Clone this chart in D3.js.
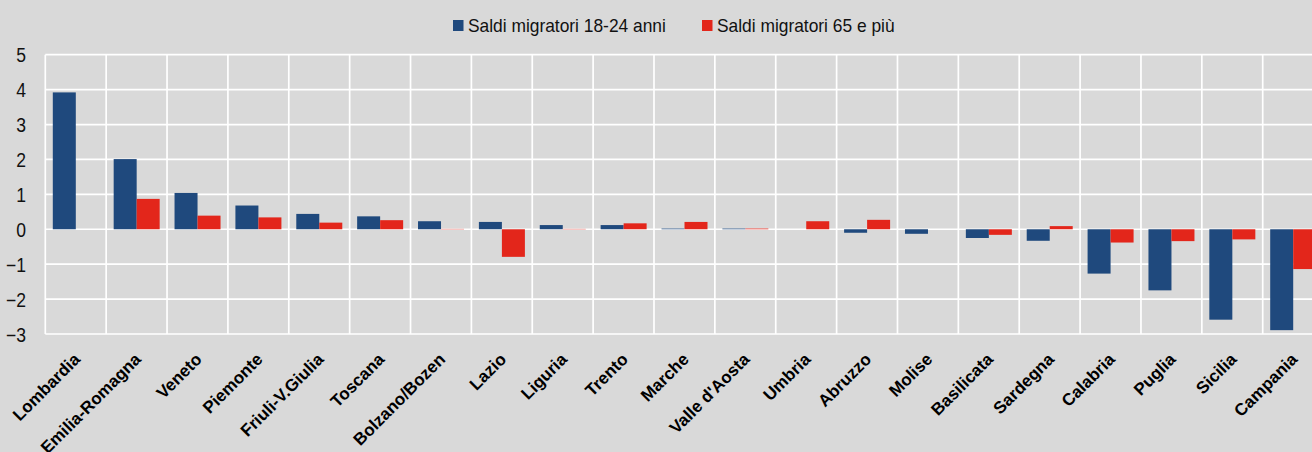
<!DOCTYPE html>
<html><head><meta charset="utf-8">
<script src="https://cdn.jsdelivr.net/npm/d3@7"></script>
<style>
html,body{margin:0;padding:0;background:#d9d9d9;overflow:hidden}
svg{display:block}
text{font-family:"Liberation Sans",Arial,sans-serif}
</style></head>
<body>
<svg id="chart" width="1312" height="452"></svg>
<script>
const categories = ["Lombardia","Emilia-Romagna","Veneto","Piemonte","Friuli-V.Giulia","Toscana","Bolzano/Bozen","Lazio","Liguria","Trento","Marche","Valle d'Aosta","Umbria","Abruzzo","Molise","Basilicata","Sardegna","Calabria","Puglia","Sicilia","Campania"];
const young = [3.92,2.01,1.04,0.68,0.44,0.37,0.23,0.21,0.12,0.12,0.02,0.02,0.0,-0.10,-0.13,-0.25,-0.33,-1.27,-1.75,-2.59,-2.89];
const old = [0.0,0.87,0.39,0.34,0.19,0.26,0.01,-0.79,0.01,0.17,0.21,0.02,0.23,0.27,0.0,-0.16,0.09,-0.38,-0.34,-0.29,-1.14];
const seriesNames = ["Saldi migratori 18-24 anni","Saldi migratori 65 e più"];
const yTicks = [5,4,3,2,1,0,-1,-2,-3];
const colors = ["#1f497d","#e3261b"];

const svg = d3.select("#chart");
const left = 45.3, step = 60.87;
const x = d3.scaleBand().domain(categories).range([left, left + step*categories.length]).paddingInner(0).paddingOuter(0);
const y = d3.scaleLinear().domain([-3,5]).range([334,54.7]);
const sub = d3.scaleBand().domain([0,1]).range([7.5, 53.5]);

// grid
const g = svg.append("g");
g.selectAll("line.h").data(yTicks).join("line")
  .attr("x1", left).attr("x2", x.range()[1])
  .attr("y1", d=>y(d)).attr("y2", d=>y(d))
  .attr("stroke","#fff").attr("stroke-width",1.7);
const bounds = categories.map(c=>x(c)).concat([x.range()[1]]);
g.selectAll("line.v").data(bounds).join("line")
  .attr("x1", d=>d).attr("x2", d=>d)
  .attr("y1", y(5)).attr("y2", y(-3))
  .attr("stroke","#fff").attr("stroke-width",1.7);

// bars
[young, old].forEach((vals, si) => {
  svg.append("g").selectAll("rect").data(vals).join("rect")
    .attr("x", (d,i)=>x(categories[i]) + sub(si))
    .attr("width", sub.bandwidth())
    .attr("y", d=>Math.min(y(d), y(0)))
    .attr("height", d=>Math.abs(y(d)-y(0)))
    .attr("fill", colors[si]);
});

// y axis labels
const yAxis = d3.axisLeft(y).tickValues(yTicks).tickSize(0).tickPadding(0).tickFormat(d3.format("d"));
const ya = svg.append("g").attr("transform","translate(26,0)").call(yAxis);
ya.select(".domain").remove();
ya.selectAll(".tick text")
  .attr("font-size",19.5).attr("fill","#111").attr("font-family","Liberation Sans, Arial, sans-serif")
  .attr("x",null).attr("dy","0.36em")
  .attr("transform","scale(0.9,1)");

// x labels
const xAxis = d3.axisBottom(x).tickSize(0).tickPadding(0);
const xa = svg.append("g").attr("transform","translate(0,338)").call(xAxis);
xa.select(".domain").remove();
xa.selectAll("text")
  .attr("font-size",17).attr("font-weight","bold").attr("fill","#000")
  .attr("font-family","Liberation Sans, Arial, sans-serif")
  .attr("text-anchor","end")
  .attr("y",0).attr("dy","0.7em").attr("dx","0")
  .attr("transform","translate(-3,14) rotate(-45)");

// legend
const legX = [453, 702];
const leg = svg.append("g");
seriesNames.forEach((n,i)=>{
  leg.append("rect").attr("x",legX[i]).attr("y",20).attr("width",10.5).attr("height",11).attr("fill",colors[i]);
  leg.append("text").attr("transform",`translate(${legX[i]+15},31.6) scale(0.905,1)`)
    .attr("font-size",19.2).attr("fill","#111").text(n);
});
</script>
</body></html>
